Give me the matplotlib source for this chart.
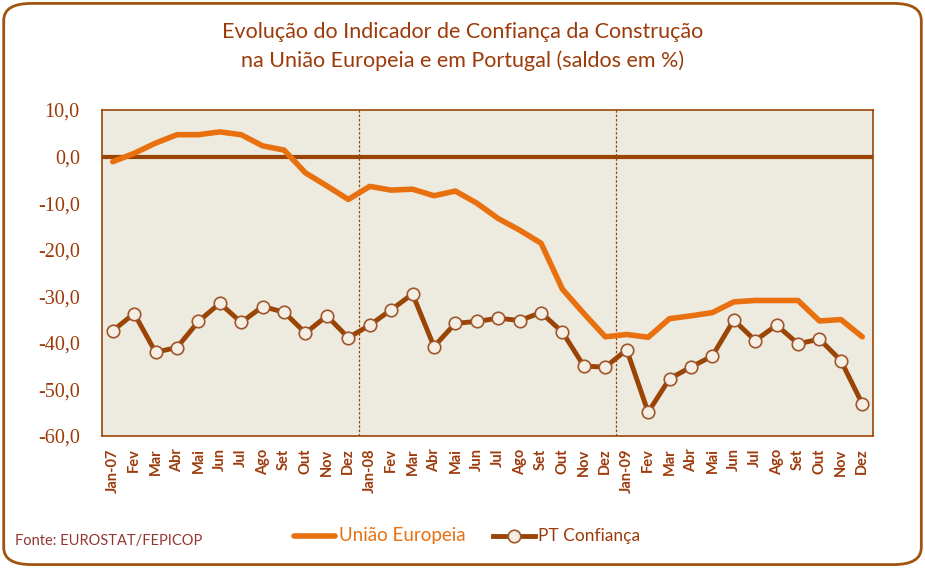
import matplotlib
matplotlib.use("Agg")
import matplotlib.pyplot as plt
from matplotlib.patches import FancyBboxPatch
from matplotlib.lines import Line2D
import numpy as np

# Data
months = ["Jan-07", "Fev", "Mar", "Abr", "Mai", "Jun", "Jul", "Ago", "Set", "Out", "Nov", "Dez",
          "Jan-08", "Fev", "Mar", "Abr", "Mai", "Jun", "Jul", "Ago", "Set", "Out", "Nov", "Dez",
          "Jan-09", "Fev", "Mar", "Abr", "Mai", "Jun", "Jul", "Ago", "Set", "Out", "Nov", "Dez"]

ue = [-1.1, 0.7, 2.9, 4.7, 4.7, 5.3, 4.7, 2.3, 1.4, -3.5, -6.3, -9.2,
      -6.4, -7.2, -7.0, -8.4, -7.4, -10.0, -13.3, -15.8, -18.6, -28.5, -33.7, -38.7,
      -38.2, -38.8, -34.8, -34.2, -33.5, -31.2, -30.9, -30.9, -30.9, -35.3, -35.0, -38.7]

pt = [-37.4, -33.7, -42.0, -41.0, -35.4, -31.5, -35.6, -32.2, -33.4, -37.9, -34.2, -38.9,
      -36.2, -32.9, -29.5, -40.8, -35.8, -35.4, -34.7, -35.2, -33.5, -37.7, -45.0, -45.2,
      -41.5, -54.9, -47.7, -45.2, -42.8, -35.1, -39.5, -36.2, -40.2, -39.2, -43.8, -53.1]

yticks = [10, 0, -10, -20, -30, -40, -50, -60]

brown = "#9A4505"
orange = "#E8700F"
text_brown = "#9C3A0A"
bg = "#EDEAE0"

fig = plt.figure(figsize=(9.25, 5.68), dpi=100)
ax = fig.add_axes([0.1103, 0.2324, 0.8335, 0.5739])
ax.set_facecolor(bg)

x = np.arange(len(months))
ax.axhline(0, color=brown, lw=3, zorder=2)
for b in [11.5, 23.5]:
    ax.axvline(b, color=brown, lw=0.9, ls=(0, (2, 1.5)), zorder=1)

ax.plot(x, ue, color=orange, lw=4, solid_capstyle="round", zorder=3)
ax.plot(x, pt, color=brown, lw=3.5, marker="o", ms=9, mfc="#F4EFE4",
        mec="#A0552A", mew=1.2, zorder=4)

ax.set_xlim(-0.5, len(months) - 0.5)
ax.set_ylim(-60, 10)
ax.set_yticks(yticks)
ax.set_yticklabels([f"{v:.1f}".replace(".", ",") for v in yticks],
                   family="Liberation Serif", fontsize=14.5, color=text_brown)
ax.set_xticks(x)
ax.set_xticklabels(months, rotation=90, family="Lato", fontsize=10.5,
                   fontweight="bold", color=text_brown)
ax.tick_params(axis="y", length=0, pad=16)
ax.tick_params(axis="x", length=0, pad=9)
for s in ax.spines.values():
    s.set_color(brown)
    s.set_linewidth(1.2)

fig.text(0.5, 0.943, "Evolução do Indicador de Confiança da Construção",
         ha="center", va="center", family="Lato", fontsize=15.5, color=text_brown)
fig.text(0.5, 0.893, "na União Europeia e em Portugal (saldos em %)",
         ha="center", va="center", family="Lato", fontsize=15.5, color=text_brown)

fig.text(0.016, 0.048, "Fonte: EUROSTAT/FEPICOP", ha="left", va="center",
         family="Lato", fontsize=10.5, color="#943634")

# legend drawn by hand
ly = 0.057
fig.add_artist(Line2D([0.318, 0.362], [ly, ly], color=orange, lw=4,
                      solid_capstyle="round", transform=fig.transFigure))
fig.text(0.366, ly, "União Europeia", ha="left", va="center", family="Lato",
         fontsize=13.5, color=orange)
fig.add_artist(Line2D([0.533, 0.578], [ly, ly], color=brown, lw=3.5,
                      transform=fig.transFigure))
fig.add_artist(Line2D([0.5555], [ly], marker="o", ms=9, mfc="#F4EFE4",
                      mec="#A0552A", mew=1.2, transform=fig.transFigure))
fig.text(0.582, ly, "PT Confiança", ha="left", va="center", family="Lato",
         fontsize=12.5, color=text_brown)

# rounded outer frame
frame = FancyBboxPatch((0.004, 0.006), 0.992, 0.988,
                       boxstyle="round,pad=0,rounding_size=0.03",
                       transform=fig.transFigure, fill=False,
                       edgecolor="#A0550F", lw=2)
fig.add_artist(frame)

fig.savefig("out.png", dpi=100)
